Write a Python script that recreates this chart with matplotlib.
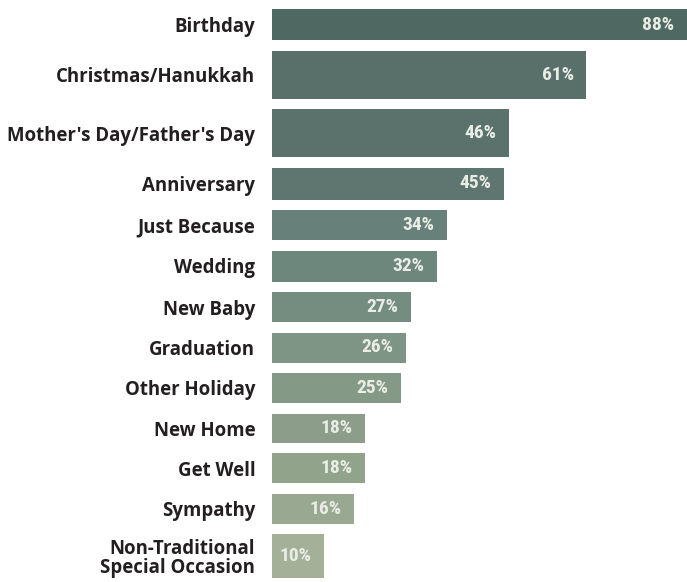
import numpy as np
import matplotlib.pyplot as plt
from matplotlib import font_manager

# Share of respondents giving gifts by occasion
occasions = ['Birthday', 'Christmas/Hanukkah', "Mother's Day/Father's Day",
             'Anniversary', 'Just Because', 'Wedding', 'New Baby',
             'Graduation', 'Other Holiday', 'New Home', 'Get Well',
             'Sympathy', 'Non-Traditional\nSpecial Occasion']
share = [88, 61, 46, 45, 34, 32, 27, 26, 25, 18, 18, 16, 10]

# bar thickness per row (px); the two holiday rows are drawn thicker
thickness = np.array([31, 48, 48, 32, 30, 31, 30, 30, 30, 29, 30, 30, 44])
gap = 10.5
top_margin = 9

bar_colors = ['#506862', '#59706a', '#5b726c', '#5f7670', '#67807a',
              '#6d877d', '#758d80', '#7e9484', '#849986', '#8c9e89',
              '#92a38c', '#99a890', '#a4b097']

# pick a narrow face for the percentage labels if one is around
installed = set(font_manager.get_font_names())
narrow = None
for name in ['Liberation Sans Narrow', 'DejaVu Sans Condensed',
             'Roboto Condensed', 'Open Sans Condensed']:
    if name in installed:
        narrow = name
        break

tops = top_margin + np.concatenate([[0], np.cumsum(thickness + gap)[:-1]])
centers = tops + thickness / 2

fig = plt.figure(figsize=(6.87, 5.82), dpi=100)
ax = fig.add_axes([272 / 687, 0, 415 / 687, 1])

x_max = 80.5
ax.barh(centers, share, height=thickness, color=bar_colors, edgecolor='none')

for yc, v in zip(centers, share):
    if narrow:
        kw = dict(family=narrow, fontsize=14)
    else:
        kw = dict(family='DejaVu Sans', fontsize=11)
    ax.annotate('%d%%' % v, xy=(min(v, x_max), yc), xytext=(-9, 0),
                textcoords='offset points', ha='right', va='center',
                fontweight='bold', color='#e9ede6', **kw)

ax.set_xlim(0, x_max)
ax.set_ylim(582, 0)

ax.set_yticks(centers)
ax.set_yticklabels(occasions, fontsize=13.4, fontweight='bold',
                   family='Open Sans', color='#231f20', linespacing=1.0)
ax.tick_params(axis='y', length=0, pad=12)
ax.set_xticks([])
for s in ax.spines.values():
    s.set_visible(False)

fig.savefig('out.png', dpi=100)
